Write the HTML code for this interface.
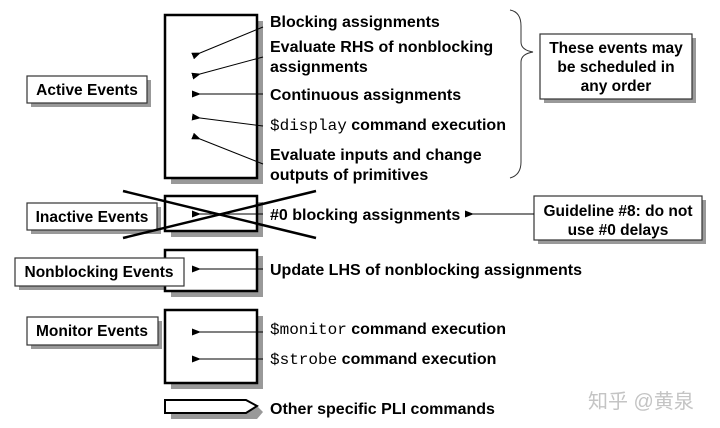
<!DOCTYPE html>
<html><head><style>body{margin:0;background:#fff}svg{display:block}</style></head><body>
<svg width="720" height="428" viewBox="0 0 720 428" xmlns="http://www.w3.org/2000/svg" font-family="Liberation Sans, Arial, sans-serif" font-weight="bold">
<defs><marker id="ah" markerWidth="9" markerHeight="7" refX="1" refY="3.5" orient="auto" markerUnits="userSpaceOnUse"><path d="M9,0 L0,3.5 L9,7 z" fill="#000"/></marker></defs>
<g fill="#999">
<rect x="171" y="21" width="92" height="163"/>
<rect x="171" y="202" width="92" height="35"/>
<rect x="171" y="256" width="92" height="41"/>
<rect x="171" y="316" width="92" height="73"/>
<polygon points="171,406 257,406 263,412 257,419 171,419"/>
<rect x="31" y="80" width="120" height="27"/>
<rect x="31" y="207" width="130" height="27"/>
<rect x="19" y="262" width="169" height="28"/>
<rect x="31" y="321" width="131" height="28"/>
<rect x="544" y="38" width="152" height="65"/>
<rect x="538" y="200" width="168" height="44"/>
</g>
<g fill="#fff" stroke="#000" stroke-width="2.5">
<rect x="165" y="15" width="92" height="163"/>
<rect x="165" y="196" width="92" height="35"/>
<rect x="165" y="250" width="92" height="41"/>
<rect x="165" y="310" width="92" height="73"/>
<polygon points="165,400 246,400 257,406 246,413 165,413" stroke-width="2"/>
</g>
<g fill="#fff" stroke="#333" stroke-width="1.2">
<rect x="27" y="76" width="120" height="27"/>
<rect x="27" y="203" width="130" height="27"/>
<rect x="15" y="258" width="169" height="28"/>
<rect x="27" y="317" width="131" height="28"/>
<rect x="540" y="34" width="152" height="65"/>
<rect x="534" y="196" width="168" height="44"/>
</g>
<g stroke="#000" stroke-width="1" marker-end="url(#ah)">
<line x1="263" y1="27" x2="200" y2="53"/>
<line x1="263" y1="57" x2="200" y2="74"/>
<line x1="263" y1="94" x2="200" y2="94"/>
<line x1="263" y1="126" x2="200" y2="118"/>
<line x1="263" y1="164" x2="200" y2="139"/>
<line x1="263" y1="214" x2="200" y2="214"/>
<line x1="263" y1="269" x2="200" y2="269"/>
<line x1="263" y1="332" x2="200" y2="332"/>
<line x1="263" y1="359" x2="200" y2="359"/>
<line x1="534" y1="214" x2="473" y2="214"/>
</g>
<g stroke="#000" stroke-width="2.5">
<line x1="123" y1="191" x2="316" y2="238"/>
<line x1="123" y1="238" x2="316" y2="191"/>
</g>
<path d="M510,10 Q521,12 521,26 L521,42 Q521,50 533,52 Q521,54 521,62 L521,162 Q521,175 510,178" fill="none" stroke="#333" stroke-width="1"/>
<g font-size="16" fill="#000">
<text x="270" y="27">Blocking assignments</text>
<text x="270" y="52">Evaluate RHS of nonblocking</text>
<text x="270" y="72">assignments</text>
<text x="270" y="100">Continuous assignments</text>
<text x="270" y="130"><tspan font-family="Liberation Mono, monospace" font-weight="normal">$display</tspan> command execution</text>
<text x="270" y="160">Evaluate inputs and change</text>
<text x="270" y="180">outputs of primitives</text>
<text x="270" y="220">#0 blocking assignments</text>
<text x="270" y="275">Update LHS of nonblocking assignments</text>
<text x="270" y="334"><tspan font-family="Liberation Mono, monospace" font-weight="normal">$monitor</tspan> command execution</text>
<text x="270" y="364"><tspan font-family="Liberation Mono, monospace" font-weight="normal">$strobe</tspan> command execution</text>
<text x="270" y="414">Other specific PLI commands</text>
</g>
<g font-size="15.5" fill="#000">
<text x="87" y="95" text-anchor="middle">Active Events</text>
<text x="92" y="222" text-anchor="middle">Inactive Events</text>
<text x="99" y="277" text-anchor="middle">Nonblocking Events</text>
<text x="92" y="336" text-anchor="middle">Monitor Events</text>
<text x="616" y="53" text-anchor="middle">These events may</text>
<text x="616" y="72" text-anchor="middle">be scheduled in</text>
<text x="616" y="91" text-anchor="middle">any order</text>
<text x="618" y="216" text-anchor="middle">Guideline #8: do not</text>
<text x="618" y="235" text-anchor="middle">use #0 delays</text>
</g>
<text x="588" y="408" font-size="20" font-weight="normal" fill="#c4c4c4" font-family="Liberation Sans, Noto Sans CJK SC, sans-serif">知乎 @黄泉</text>
</svg>
</body></html>
